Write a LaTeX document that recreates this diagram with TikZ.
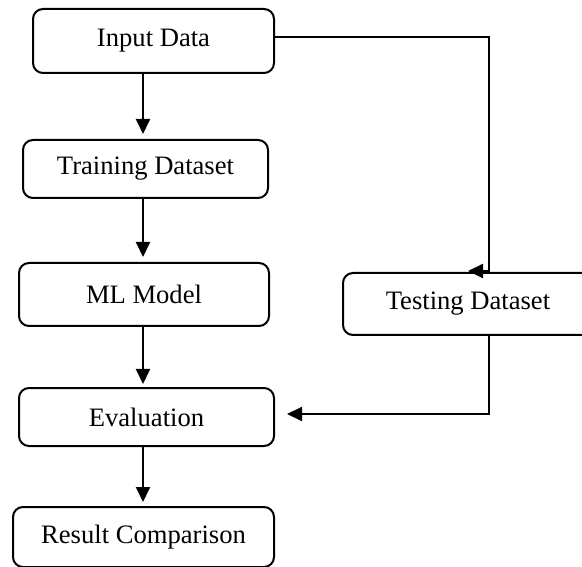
\documentclass[tikz,border=0pt]{standalone}
\usepackage{fontspec}
\setmainfont{Liberation Serif}
\usetikzlibrary{arrows.meta,calc}
\begin{document}
\begin{tikzpicture}[x=1pt,y=-1pt,
  box/.style={draw=black, line width=2pt, rounded corners=10pt, inner sep=0pt,
    font=\fontsize{26.6}{30}\selectfont},
  conn/.style={draw=black, line width=2pt},
  arr/.style={conn, -{Triangle[length=15pt,width=14pt]}}]
\clip (0,0) rectangle (582,567);
\fill[white] (0,0) rectangle (582,567);
\node[box, minimum width=241pt, minimum height=64pt] (in) at (153.5,41) {Input Data};
\node[box, minimum width=245pt, minimum height=58pt] (tr) at (145.5,169) {Training Dataset};
\node[box, minimum width=250pt, minimum height=63pt] (ml) at (144,294.5) {ML Model};
\node[box, minimum width=250pt, minimum height=62pt] (te) at (468,304) {Testing Dataset};
\node[box, minimum width=255pt, minimum height=58pt] (ev) at (146.5,417) {Evaluation};
\node[box, minimum width=261pt, minimum height=60pt] (rc) at (143.5,537) {Result Comparison};
\coordinate (ax) at (143,0);
\coordinate (k1) at (489,37);
\coordinate (k2) at (489,271);
\coordinate (k3) at (489,414);
\draw[arr, shorten >=5pt] (in.south -| ax) -- (tr.north -| ax);
\draw[arr, shorten >=5pt] (tr.south -| ax) -- (ml.north -| ax);
\draw[arr, shorten >=3pt] (ml.south -| ax) -- (ev.north -| ax);
\draw[arr, shorten >=4pt] (ev.south -| ax) -- (rc.north -| ax);
\draw[arr] (in.east |- k1) -- (k1) -- (k2) -- ++(-21,0);
\draw[arr, shorten >=12pt] (te.south -| k1) -- (k3) -- (ev.east |- k3);
\end{tikzpicture}
\end{document}
